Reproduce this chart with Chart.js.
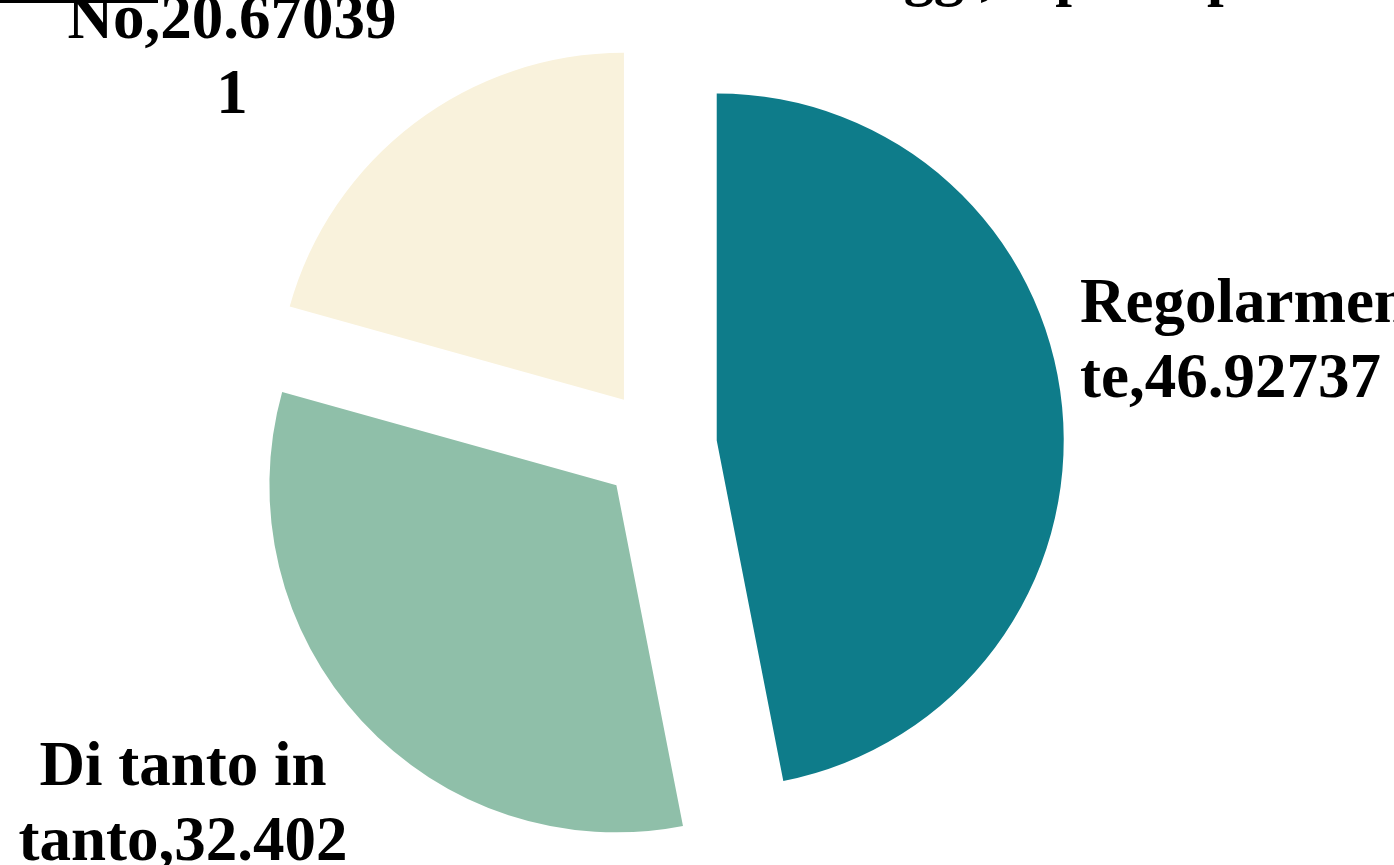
<!DOCTYPE html>
<html>
<head>
<meta charset="utf-8">
<script src="https://cdn.jsdelivr.net/npm/chart.js@4.4.1/dist/chart.umd.min.js"></script>
<style>
    html, body { margin: 0; padding: 0; background: #ffffff; overflow: hidden; }
    #box { position: relative; width: 1394px; height: 865px; }
</style>
</head>
<body>
<div id="box"><canvas id="ChartLettura"></canvas></div>
<script>
// dati
const categorie = ['Regolarmente', 'Di tanto in tanto', 'No'];
const valori = [46.92737, 32.402235, 20.670391];
const colori = ['#0E7C8A', '#8FBFA9', '#F9F2DC'];
const titolo = 'Leggi, a parte per lo studio? (%)';

// posizione delle etichette rispetto al centro della torta (px)
const posEtichette = [
    { dx: 421, dy: -124, align: 'left' },
    { dx: -476, dy: 339, align: 'center' },
    { dx: -427, dy: -408, align: 'center' }
];

const ESPLOSO = 58;
const RAGGIO = 347;
const FONT_ETICHETTE = 'bold 63px "Liberation Serif", "Times New Roman", serif';
const LARGHEZZA_MAX = 336;
const INTERLINEA = 75;

const canvas = document.getElementById('ChartLettura');
const ctx = canvas.getContext('2d');

// a capo come fa Excel: prima per parole, poi per caratteri
const spezzaTesto = (c, testo, maxW) => {
    const righe = [];
    let riga = '';
    testo.split(' ').forEach(parola => {
        const prova = riga ? riga + ' ' + parola : parola;
        if (c.measureText(prova).width <= maxW) {
            riga = prova;
            return;
        }
        if (riga) righe.push(riga);
        riga = '';
        for (const ch of parola) {
            if (c.measureText(riga + ch).width > maxW && riga) {
                righe.push(riga);
                riga = ch;
            } else {
                riga += ch;
            }
        }
    });
    if (riga) righe.push(riga);
    return righe;
}

// fette staccate dal centro, disegnate con l'arco di Chart.js
const fetteStaccate = {
    id: 'fetteStaccate',
    beforeDatasetDraw(chart, args) {
        const c = chart.ctx;
        args.meta.data.forEach(arc => {
            const meta = (arc.startAngle + arc.endAngle) / 2;
            c.save();
            c.translate(Math.cos(meta) * ESPLOSO, Math.sin(meta) * ESPLOSO);
            arc.draw(c);
            c.restore();
        });
        return false;
    }
};

const etichette = {
    id: 'etichette',
    afterDatasetsDraw(chart) {
        const c = chart.ctx;
        const arcs = chart.getDatasetMeta(0).data;
        const cx = arcs[0].x;
        const cy = arcs[0].y;
        c.save();
        c.fillStyle = '#000000';
        c.font = FONT_ETICHETTE;
        c.textBaseline = 'alphabetic';
        categorie.forEach((cat, i) => {
            const testo = cat + ',' + valori[i];
            const righe = spezzaTesto(c, testo, LARGHEZZA_MAX);
            c.textAlign = posEtichette[i].align;
            righe.forEach((r, k) => {
                c.fillText(r, cx + posEtichette[i].dx, cy + posEtichette[i].dy + k * INTERLINEA);
            });
        });

        // titolo tagliato in alto e riga nera in alto a sinistra
        c.font = 'bold 60px "Liberation Serif", "Times New Roman", serif';
        c.textAlign = 'left';
        c.fillText(titolo, 837, -6);
        c.fillRect(0, 0, 158, 3);
        c.restore();
    }
};

const data = {
    labels: categorie,
    datasets: [{
        data: valori,
        backgroundColor: colori,
        borderWidth: 0,
        radius: RAGGIO
    }]
};

const chartLettura = new Chart(ctx, {
    type: 'pie',
    data: data,
    options: {
        responsive: true,
        maintainAspectRatio: false,
        animation: false,
        layout: { padding: { left: 0, right: 76, top: 27, bottom: 0 } },
        plugins: {
            legend: { display: false },
            tooltip: { enabled: false },
            title: { display: false }
        }
    },
    plugins: [fetteStaccate, etichette]
});
</script>
</body>
</html>
